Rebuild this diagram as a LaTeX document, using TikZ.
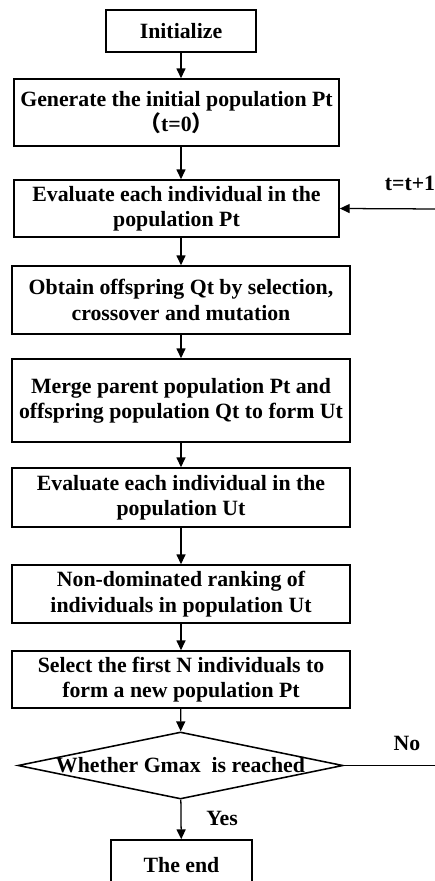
\documentclass[tikz,border=0pt]{standalone}
\usepackage{fontspec}
\setmainfont{Liberation Serif}
\newfontfamily\cjk{Noto Sans CJK SC}
\usetikzlibrary{arrows.meta,shapes.geometric}

\newcommand\flowfont{\bfseries\fontsize{15.5}{18}\selectfont}

\tikzset{
  stepbox/.style={draw,line width=1.1pt,align=center,inner sep=1pt},
  decide/.style={draw,shape=diamond,line width=1.1pt,aspect=4.85,inner sep=0pt,
    minimum width=8.125cm,minimum height=1.675cm},
  arr/.style={-{Triangle[length=7pt,width=6.4pt]},line width=0.9pt},
}

\begin{document}
\begin{tikzpicture}[x=0.025cm,y=-0.025cm,font=\flowfont]
  \useasboundingbox (0,0) rectangle (434,881);
  \node[stepbox,minimum width=3.75cm,minimum height=1.05cm] (init) at (181,31) {Initialize};
  \node[stepbox,minimum width=8.125cm,minimum height=1.675cm] (gen) at (176.5,112.5)
    {Generate the initial population Pt\\{\cjk （}t=0{\cjk ）}};
  \node[stepbox,minimum width=8.125cm,minimum height=1.425cm] (evalP) at (176.5,208.5)
    {Evaluate each individual in the\\population Pt};
  \node[stepbox,minimum width=8.45cm,minimum height=1.7cm] (obtain) at (181,300)
    {Obtain offspring Qt by selection,\\crossover and mutation};
  \node[stepbox,minimum width=8.45cm,minimum height=2.075cm] (merge) at (181,400.5)
    {Merge parent population Pt and\\offspring population Qt to form Ut};
  \node[stepbox,minimum width=8.45cm,minimum height=1.475cm] (evalU) at (181,497.5)
    {Evaluate each individual in the\\population Ut};
  \node[stepbox,minimum width=8.45cm,minimum height=1.45cm] (rank) at (181,594)
    {Non-dominated ranking of\\individuals in population Ut};
  \node[stepbox,minimum width=8.45cm,minimum height=1.425cm] (select) at (181,679.5)
    {Select the first N individuals to\\form a new population Pt};
  \node[decide] (gmax) at (180.5,765.5) {Whether Gmax\ \ is reached};
  \node[stepbox,minimum width=3.525cm,minimum height=1.25cm] (end) at (181.5,865) {The end};

  % loop back and exit
  \coordinate (back) at (440,209);
  \coordinate (noend) at (440,765.5);
  \node (tlabel) at (410,183) {t=t+1};
  \node (nolabel) at (407,743) {No};
  \node (yeslabel) at (222,818) {Yes};

  \draw[arr] (init) -- (init |- gen.north);
  \draw[arr] (gen.south -| init) -- (evalP.north -| init);
  \draw[arr] (evalP.south -| obtain) -- (obtain.north);
  \draw[arr] (obtain) -- (merge);
  \draw[arr] (merge) -- (evalU);
  \draw[arr] (evalU) -- (rank);
  \draw[arr] (rank) -- (select);
  \draw[arr] (select) -- (gmax);
  \draw[arr] (gmax) -- (end);
  \draw[line width=0.9pt] (gmax.east) -- (noend);
  \draw[arr] (back) -- (evalP.east);
\end{tikzpicture}
\end{document}
